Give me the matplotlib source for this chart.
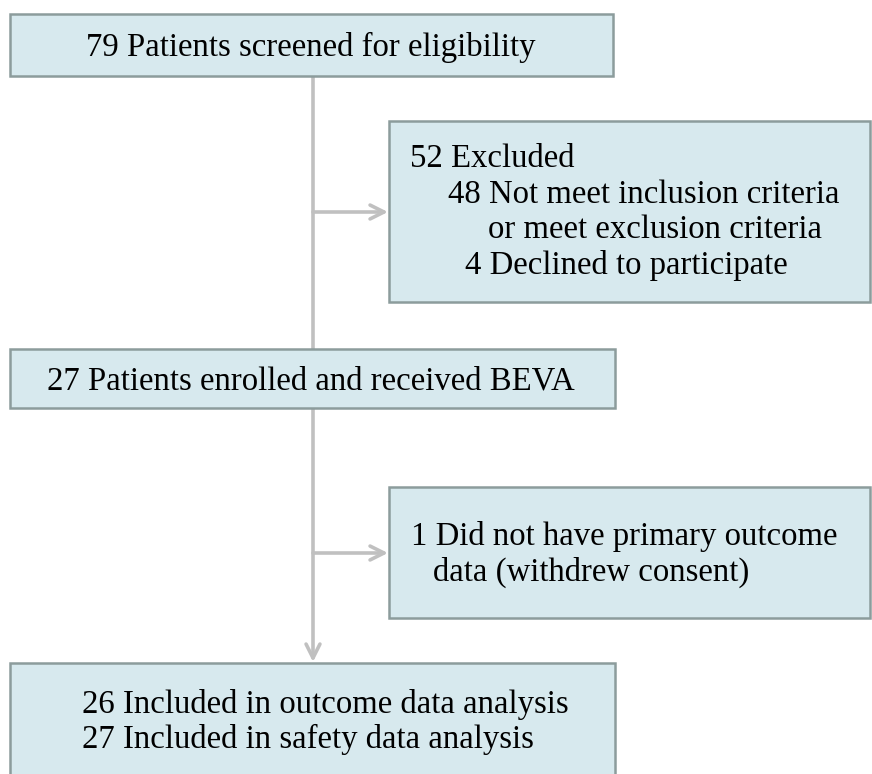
import matplotlib.pyplot as plt
from matplotlib.patches import Rectangle

# texto de cada caixa do fluxograma
screened = "79 Patients screened for eligibility"
excluded = ["52 Excluded",
            "48 Not meet inclusion criteria",
            "or meet exclusion criteria",
            "4 Declined to participate"]
enrolled = "27 Patients enrolled and received BEVA"
no_data = ["1 Did not have primary outcome",
           "data (withdrew consent)"]
included = ["26 Included in outcome data analysis",
            "27 Included in safety data analysis"]

fill = "#d7e9ee"
edge = "#8c9c9c"
line = "#c0c0c0"

plt.rcParams['font.family'] = ['Liberation Serif', 'DejaVu Serif']

fig = plt.figure(figsize=(8.72, 7.74), dpi=100)
ax = fig.add_axes([0, 0, 1, 1])
ax.set_xlim(0, 872)
ax.set_ylim(774, 0)
ax.axis("off")


def caixa(x0, y0, x1, y1):
    ax.add_patch(Rectangle((x0, y0), x1 - x0, y1 - y0, facecolor=fill,
                           edgecolor=edge, linewidth=1.8, zorder=2))


def seta(x0, y0, x1, y1):
    ax.annotate("", xy=(x1, y1), xytext=(x0, y0), zorder=1,
                arrowprops=dict(arrowstyle="->,head_length=1.0,head_width=0.5",
                                color=line, lw=2.6, shrinkA=0, shrinkB=0))


fs = 23.6

# caixas
caixa(10, 14, 613, 76)
caixa(389, 121, 870, 302)
caixa(10, 349, 615, 408)
caixa(389, 487, 870, 618)
caixa(10, 663, 615, 790)

# linhas e setas
ax.plot([313, 313], [76, 349], color=line, lw=2.6, zorder=1)
seta(313, 212, 388, 212)
seta(313, 408, 313, 662)
seta(313, 553, 388, 553)

# textos
ax.text(311, 47, screened, fontsize=fs, ha="center", va="center", zorder=3)
x_exc = [410, 448, 488, 465]
for i, t in enumerate(excluded):
    ax.text(x_exc[i], 159 + i * 35.5, t, fontsize=fs, ha="left", va="center", zorder=3)
ax.text(311, 381, enrolled, fontsize=fs, ha="center", va="center", zorder=3)
x_nd = [411, 433]
for i, t in enumerate(no_data):
    ax.text(x_nd[i], 536 + i * 36, t, fontsize=fs, ha="left", va="center", zorder=3)
for i, t in enumerate(included):
    ax.text(82, 705 + i * 34, t, fontsize=fs, ha="left", va="center", zorder=3)

fig.savefig("out.png", dpi=100)
